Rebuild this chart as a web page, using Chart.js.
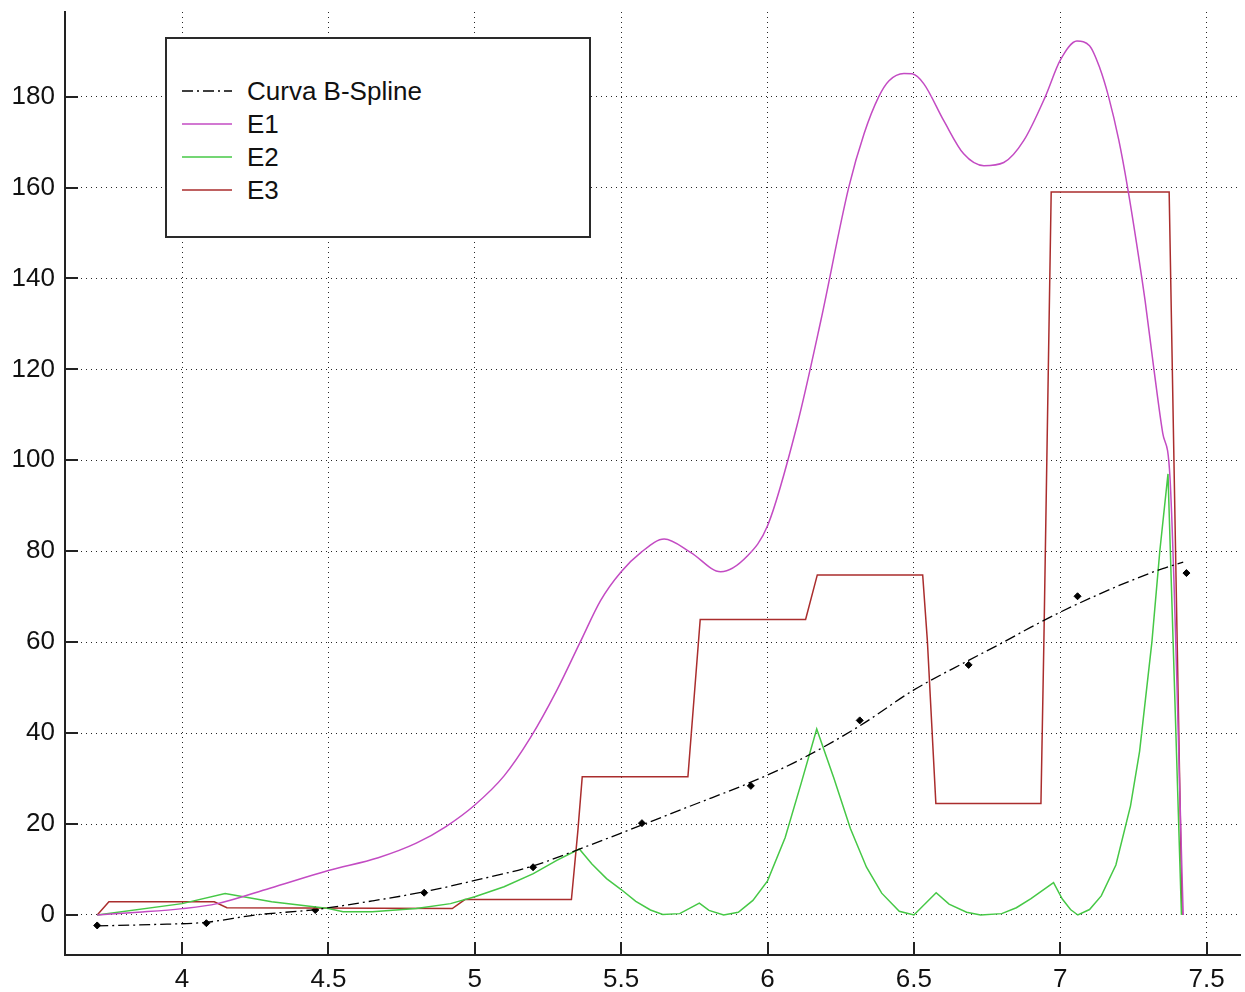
<!DOCTYPE html>
<html>
<head>
<meta charset="utf-8">
<script src="https://cdn.jsdelivr.net/npm/chart.js@4.4.1/dist/chart.umd.min.js"></script>
<style>
  body { margin: 0; background: #fff; }
  #wrap { position: relative; width: 1245px; height: 992px; }
  #legenda {
    position: absolute; left: 165px; top: 37px; width: 426px; height: 201px;
    box-sizing: border-box; border: 2px solid #2a2a2a; background: #fff;
    font-family: 'Liberation Sans', Arial, sans-serif; font-size: 26px; color: #111;
  }
  .linha { position: absolute; left: 0; height: 30px; display: flex; align-items: center; white-space: nowrap; }
  .linha svg { margin-left: 15px; margin-right: 15px; }
</style>
</head>
<body>
<div id="wrap">
  <canvas id="grafico"></canvas>
  <div id="legenda"></div>
</div>
<script>
// eixos
const xTicks = [4, 4.5, 5, 5.5, 6, 6.5, 7, 7.5];
const xTickLabels = ['4', '4.5', '5', '5.5', '6', '6.5', '7', '7.5'];
const yTicks = [0, 20, 40, 60, 80, 100, 120, 140, 160, 180];
const yTickLabels = ['0', '20', '40', '60', '80', '100', '120', '140', '160', '180'];

// curva B-spline
const splineX = [3.71, 3.9, 4.083, 4.25, 4.455, 4.65, 4.827, 5.0, 5.199, 5.37, 5.571, 5.75, 5.943, 6.1, 6.315, 6.5, 6.687, 6.8, 6.9, 7.0, 7.12, 7.236, 7.35, 7.42];
const splineY = [-2.4, -2.1, -1.6, 0.0, 1.2, 3.1, 5.1, 7.6, 10.8, 14.8, 19.8, 24.3, 29.2, 33.8, 41.6, 49.5, 56.0, 59.8, 63.3, 66.6, 70.2, 73.4, 76.2, 77.6];

// pontos de controle
const pontosX = [3.71, 4.083, 4.455, 4.827, 5.199, 5.571, 5.943, 6.315, 6.687, 7.059, 7.431];
const pontosY = [-2.3, -1.8, 1.1, 4.9, 10.5, 20.2, 28.4, 42.8, 55.0, 70.1, 75.2];

// E1
const e1X = [3.71, 3.85, 4.0, 4.12, 4.3, 4.5, 4.67, 4.8, 4.9, 5.0, 5.1, 5.19, 5.28, 5.36, 5.43, 5.5, 5.567, 5.647, 5.738, 5.84, 5.93, 6.0, 6.1, 6.182, 6.278, 6.33, 6.38, 6.415, 6.466, 6.494, 6.534, 6.602, 6.67, 6.739, 6.807, 6.875, 6.949, 7.0, 7.057, 7.1, 7.135, 7.165, 7.2, 7.23, 7.26, 7.29, 7.32, 7.35, 7.375, 7.42];
const e1Y = [0, 0.6, 1.4, 2.5, 5.9, 9.8, 12.6, 15.8, 19.4, 24.2, 30.6, 39.0, 49.4, 60, 69.2, 75.5, 79.7, 82.7, 79.7, 75.5, 78.9, 85.6, 107.5, 130.7, 160.2, 171.9, 180, 183.5, 185.1, 185, 182.8, 174.7, 167.4, 164.8, 165.5, 170.3, 180, 188, 192.2, 191.2, 186.3, 180, 170.4, 160, 148, 135, 120, 106, 96, 0];

// E2
const e2X = [3.71, 4.0, 4.147, 4.306, 4.5, 4.55, 4.65, 4.8, 4.917, 5.0, 5.1, 5.2, 5.28, 5.357, 5.4, 5.45, 5.5, 5.55, 5.6, 5.642, 5.7, 5.767, 5.8, 5.85, 5.9, 5.95, 6.0, 6.06, 6.115, 6.168, 6.227, 6.283, 6.338, 6.39, 6.45, 6.5, 6.576, 6.62, 6.68, 6.728, 6.8, 6.85, 6.9, 6.977, 7.007, 7.035, 7.06, 7.1, 7.14, 7.19, 7.24, 7.271, 7.313, 7.34, 7.368, 7.414];
const e2Y = [0, 2.5, 4.7, 2.9, 1.45, 0.7, 0.7, 1.45, 2.5, 4.0, 6.2, 9.1, 12.0, 14.5, 11.2, 8.0, 5.6, 3.0, 1.1, 0.1, 0.3, 2.6, 1.0, 0, 0.6, 3.2, 7.5, 17, 29, 40.9, 30, 19, 10.5, 4.8, 0.8, 0, 4.9, 2.4, 0.6, 0, 0.3, 1.6, 3.6, 7.1, 3.5, 1.2, 0, 1.2, 4.2, 11, 24, 36, 60, 80, 97, 0];

// E3
const e3X = [3.71, 3.75, 4.11, 4.153, 4.923, 4.966, 5.33, 5.352, 5.367, 5.728, 5.77, 6.13, 6.17, 6.53, 6.546, 6.575, 6.934, 6.944, 6.969, 7.372, 7.416];
const e3Y = [0, 2.9, 2.9, 1.6, 1.4, 3.4, 3.4, 18.5, 30.4, 30.4, 65, 65, 74.8, 74.8, 60.3, 24.5, 24.5, 60, 159, 159, 0];

const pares = (xs, ys) => xs.map((x, i) => ({x: x, y: ys[i]}));

const legendaHtml = {
  id: 'legendaHtml',
  afterUpdate(chart) {
    const caixa = document.getElementById('legenda');
    caixa.innerHTML = '';
    chart.data.datasets.filter(ds => ds.naLegenda).forEach((ds, i) => {
      const linha = document.createElement('div');
      linha.className = 'linha';
      linha.style.top = (37 + i * 33) + 'px';
      const dash = ds.borderDash ? ds.borderDash.join(' ') : 'none';
      linha.innerHTML = '<svg width="50" height="6"><line x1="0" y1="3" x2="50" y2="3" stroke="' + ds.borderColor +
        '" stroke-width="1.5" stroke-dasharray="' + dash + '"/></svg><span>' + ds.label + '</span>';
      caixa.appendChild(linha);
    });
  }
};

const marcasInternas = {
  id: 'marcasInternas',
  afterDraw(chart) {
    const {ctx, chartArea, scales} = chart;
    ctx.save();
    ctx.strokeStyle = '#222';
    ctx.lineWidth = 2;
    ctx.beginPath();
    xTicks.forEach(v => {
      const px = Math.round(scales.x.getPixelForValue(v));
      ctx.moveTo(px, chartArea.bottom);
      ctx.lineTo(px, chartArea.bottom - 13);
    });
    yTicks.forEach(v => {
      const py = Math.round(scales.y.getPixelForValue(v));
      ctx.moveTo(chartArea.left, py);
      ctx.lineTo(chartArea.left + 13, py);
    });
    ctx.stroke();
    ctx.restore();
  }
};

const fonte = {family: "'Liberation Sans', Arial, sans-serif", size: 26};

const ctx = document.getElementById('grafico').getContext('2d');
const grafico = new Chart(ctx, {
  type: 'scatter',
  data: {
    datasets: [
      {
        label: 'Curva B-Spline', naLegenda: true,
        data: pares(splineX, splineY), showLine: true,
        borderColor: '#000', borderWidth: 1.3, borderDash: [11, 4, 2, 4],
        pointRadius: 0, cubicInterpolationMode: 'monotone'
      },
      {
        label: 'E1', naLegenda: true,
        data: pares(e1X, e1Y), showLine: true,
        borderColor: 'rgb(195,75,195)', borderWidth: 1.5,
        pointRadius: 0, cubicInterpolationMode: 'monotone'
      },
      {
        label: 'E2', naLegenda: true,
        data: pares(e2X, e2Y), showLine: true,
        borderColor: 'rgb(70,200,70)', borderWidth: 1.5,
        pointRadius: 0, tension: 0
      },
      {
        label: 'E3', naLegenda: true,
        data: pares(e3X, e3Y), showLine: true,
        borderColor: 'rgb(170,45,45)', borderWidth: 1.5,
        pointRadius: 0, tension: 0
      },
      {
        label: 'Pontos', naLegenda: false,
        data: pares(pontosX, pontosY), showLine: false,
        pointStyle: 'rectRot', pointRadius: 3.5,
        pointBackgroundColor: '#000', pointBorderColor: '#000', pointBorderWidth: 1
      }
    ]
  },
  options: {
    responsive: true,
    maintainAspectRatio: false,
    animation: false,
    layout: { padding: { top: 12, left: 0, right: 0, bottom: 0 } },
    plugins: { legend: { display: false }, tooltip: { enabled: false } },
    scales: {
      x: {
        type: 'linear', min: 3.6, max: 7.614,
        afterBuildTicks: s => { s.ticks = xTicks.map(v => ({value: v})); },
        afterFit: s => { s.height = 37; s.paddingLeft = 0; s.paddingRight = 0; },
        grid: { color: 'rgba(0,0,0,0.85)', lineWidth: 1, drawTicks: false },
        border: { display: true, color: '#222', width: 2, dash: [1, 4] },
        ticks: { font: fonte, color: '#111', padding: 9, maxRotation: 0,
                 callback: (v, i) => xTickLabels[i] }
      },
      y: {
        type: 'linear', min: -8.8, max: 198.6,
        afterBuildTicks: s => { s.ticks = yTicks.map(v => ({value: v})); },
        afterFit: s => { s.width = 65; s.paddingTop = 0; s.paddingBottom = 0; },
        grid: { color: 'rgba(0,0,0,0.85)', lineWidth: 1, drawTicks: false },
        border: { display: true, color: '#222', width: 2, dash: [1, 4] },
        ticks: { font: fonte, color: '#111', padding: 10,
                 callback: (v, i) => yTickLabels[i] }
      }
    }
  },
  plugins: [legendaHtml, marcasInternas]
});
</script>
</body>
</html>
